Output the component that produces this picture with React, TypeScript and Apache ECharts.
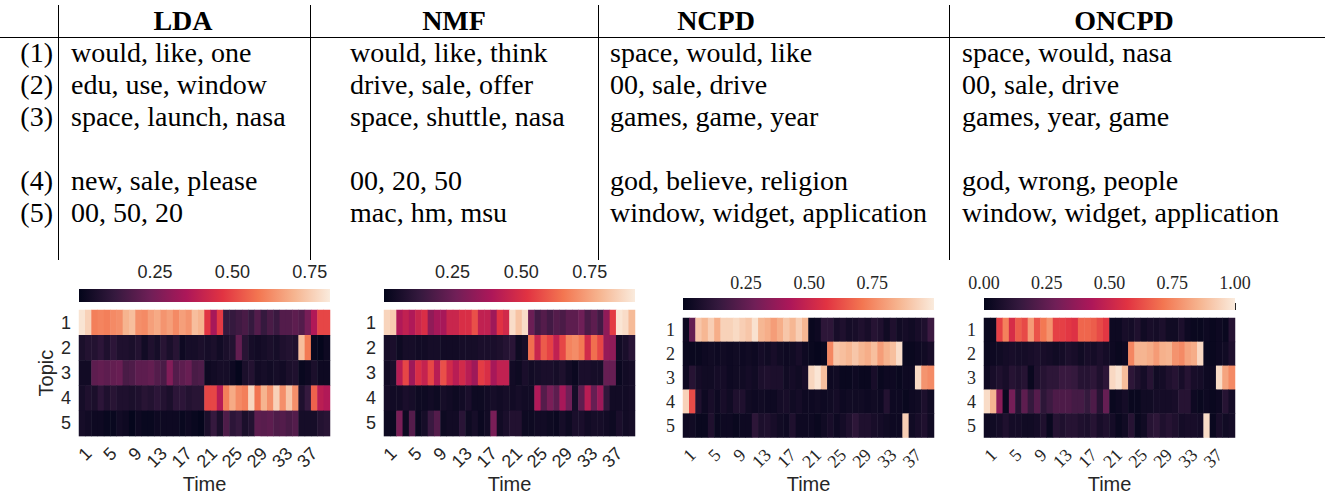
import React, { useEffect, useRef } from "react";
import * as echarts from "echarts";

// ---------- Data ----------
const TIME = ["1","2","3","4","5","6","7","8","9","10","11","12","13","14","15","16","17","18","19","20","21","22","23","24","25","26","27","28","29","30","31","32","33","34","35","36","37","38","39","40"];
const TOPICS = ["1", "2", "3", "4", "5"];
const TIME_LABEL_STEP = 4;

const ROW_LABELS = ["(1)", "(2)", "(3)", "(4)", "(5)"];
const LDA_WORDS = ["would, like, one", "edu, use, window", "space, launch, nasa", "new, sale, please", "00, 50, 20"];
const NMF_WORDS = ["would, like, think", "drive, sale, offer", "space, shuttle, nasa", "00, 20, 50", "mac, hm, msu"];
const NCPD_WORDS = ["space, would, like", "00, sale, drive", "games, game, year", "god, believe, religion", "window, widget, application"];
const ONCPD_WORDS = ["space, would, nasa", "00, sale, drive", "games, year, game", "god, wrong, people", "window, widget, application"];

const LDA_VALUES = [
  [0.80,0.76,0.60,0.61,0.60,0.62,0.63,0.70,0.72,0.63,0.62,0.66,0.68,0.64,0.66,0.62,0.66,0.64,0.72,0.70,0.47,0.34,0.48,0.12,0.12,0.14,0.16,0.12,0.18,0.12,0.16,0.13,0.18,0.18,0.20,0.18,0.25,0.36,0.50,0.50],
  [0.06,0.08,0.08,0.10,0.07,0.10,0.07,0.07,0.06,0.08,0.04,0.07,0.05,0.09,0.06,0.09,0.03,0.05,0.05,0.06,0.05,0.06,0.04,0.06,0.08,0.21,0.09,0.05,0.04,0.05,0.06,0.05,0.07,0.08,0.07,0.72,0.59,0.02,0.01,0.03],
  [0.04,0.04,0.20,0.21,0.20,0.21,0.22,0.16,0.17,0.20,0.20,0.21,0.18,0.16,0.27,0.18,0.20,0.22,0.16,0.17,0.03,0.04,0.05,0.05,0.03,0.01,0.06,0.08,0.04,0.05,0.04,0.05,0.04,0.06,0.07,0.02,0.03,0.06,0.03,0.03],
  [0.05,0.07,0.06,0.10,0.07,0.09,0.07,0.07,0.06,0.07,0.09,0.08,0.10,0.08,0.06,0.10,0.10,0.08,0.09,0.09,0.50,0.50,0.37,0.60,0.68,0.62,0.60,0.77,0.58,0.70,0.63,0.76,0.63,0.74,0.63,0.07,0.12,0.55,0.38,0.36],
  [0.05,0.04,0.03,0.03,0.02,0.02,0.04,0.03,0.01,0.03,0.02,0.02,0.03,0.03,0.03,0.03,0.02,0.03,0.02,0.01,0.06,0.12,0.06,0.17,0.10,0.12,0.06,0.08,0.20,0.19,0.20,0.17,0.18,0.16,0.18,0.05,0.05,0.05,0.08,0.09],
];
const NMF_VALUES = [
  [0.86,0.84,0.40,0.44,0.40,0.46,0.50,0.33,0.38,0.38,0.46,0.46,0.50,0.50,0.58,0.44,0.44,0.36,0.52,0.48,0.88,0.82,0.88,0.25,0.16,0.20,0.16,0.20,0.18,0.22,0.22,0.26,0.18,0.22,0.16,0.33,0.54,0.90,0.88,0.80],
  [0.05,0.06,0.03,0.05,0.05,0.04,0.04,0.05,0.05,0.04,0.04,0.04,0.05,0.05,0.05,0.06,0.06,0.06,0.07,0.09,0.10,0.03,0.05,0.64,0.46,0.60,0.55,0.44,0.56,0.68,0.70,0.66,0.48,0.64,0.56,0.34,0.33,0.04,0.06,0.10],
  [0.04,0.06,0.42,0.56,0.36,0.50,0.45,0.56,0.42,0.58,0.48,0.42,0.48,0.42,0.36,0.54,0.50,0.38,0.44,0.44,0.04,0.03,0.06,0.04,0.05,0.06,0.06,0.05,0.07,0.04,0.02,0.06,0.06,0.05,0.05,0.24,0.24,0.02,0.04,0.05],
  [0.05,0.04,0.04,0.06,0.05,0.03,0.03,0.04,0.03,0.05,0.04,0.03,0.04,0.06,0.03,0.03,0.04,0.05,0.04,0.05,0.04,0.05,0.04,0.04,0.40,0.20,0.28,0.22,0.38,0.26,0.05,0.22,0.42,0.24,0.36,0.12,0.04,0.04,0.04,0.05],
  [0.03,0.02,0.28,0.03,0.20,0.02,0.05,0.14,0.20,0.03,0.04,0.04,0.10,0.03,0.05,0.02,0.04,0.28,0.04,0.06,0.08,0.08,0.03,0.03,0.04,0.04,0.03,0.02,0.05,0.03,0.06,0.06,0.04,0.05,0.05,0.04,0.03,0.06,0.04,0.05],
];
const NCPD_VALUES = [
  [0.03,0.25,0.90,0.86,0.92,0.84,0.93,0.93,0.95,0.92,0.90,0.97,0.86,0.84,0.80,0.84,0.90,0.86,0.92,0.86,0.02,0.03,0.12,0.12,0.06,0.08,0.05,0.06,0.08,0.06,0.10,0.08,0.04,0.08,0.04,0.05,0.04,0.06,0.08,0.16],
  [0.02,0.02,0.02,0.03,0.04,0.03,0.04,0.03,0.04,0.03,0.04,0.03,0.05,0.04,0.06,0.04,0.03,0.04,0.06,0.03,0.02,0.01,0.02,0.75,0.90,0.88,0.86,0.90,0.86,0.84,0.88,0.80,0.85,0.88,0.96,0.02,0.02,0.03,0.04,0.06],
  [0.03,0.10,0.05,0.04,0.04,0.05,0.05,0.03,0.04,0.04,0.05,0.04,0.07,0.08,0.07,0.07,0.04,0.05,0.04,0.06,0.94,0.98,0.88,0.03,0.04,0.02,0.02,0.03,0.02,0.02,0.06,0.02,0.03,0.03,0.02,0.03,0.03,0.95,0.78,0.76],
  [0.93,0.62,0.08,0.03,0.06,0.03,0.06,0.04,0.08,0.08,0.04,0.03,0.04,0.03,0.03,0.05,0.06,0.04,0.05,0.03,0.03,0.04,0.03,0.04,0.05,0.03,0.04,0.04,0.04,0.03,0.04,0.03,0.09,0.03,0.03,0.02,0.03,0.04,0.07,0.04],
  [0.03,0.04,0.02,0.02,0.08,0.02,0.03,0.03,0.02,0.03,0.03,0.12,0.07,0.08,0.06,0.04,0.03,0.08,0.03,0.03,0.03,0.02,0.04,0.06,0.03,0.05,0.08,0.12,0.08,0.08,0.06,0.05,0.04,0.03,0.03,0.92,0.04,0.06,0.08,0.04],
];
const ONCPD_VALUES = [
  [0.02,0.02,0.60,0.74,0.54,0.66,0.62,0.80,0.64,0.72,0.78,0.60,0.60,0.58,0.56,0.68,0.68,0.66,0.62,0.58,0.03,0.03,0.06,0.05,0.08,0.04,0.06,0.05,0.07,0.04,0.04,0.07,0.03,0.02,0.02,0.03,0.02,0.03,0.02,0.10],
  [0.02,0.03,0.04,0.05,0.06,0.05,0.05,0.06,0.07,0.06,0.05,0.04,0.05,0.07,0.06,0.04,0.06,0.05,0.07,0.05,0.03,0.02,0.03,0.75,0.86,0.86,0.84,0.80,0.85,0.86,0.78,0.76,0.82,0.84,0.95,0.02,0.02,0.03,0.04,0.08],
  [0.03,0.06,0.08,0.06,0.10,0.08,0.10,0.02,0.08,0.10,0.12,0.12,0.15,0.15,0.14,0.10,0.10,0.12,0.08,0.12,0.95,0.98,0.88,0.12,0.08,0.05,0.10,0.04,0.05,0.08,0.10,0.06,0.10,0.06,0.05,0.03,0.03,0.96,0.82,0.76],
  [0.96,0.86,0.35,0.02,0.30,0.10,0.24,0.14,0.22,0.12,0.16,0.20,0.20,0.20,0.18,0.18,0.14,0.20,0.10,0.26,0.02,0.03,0.05,0.02,0.02,0.04,0.04,0.05,0.05,0.05,0.06,0.10,0.10,0.03,0.02,0.03,0.02,0.03,0.10,0.05],
  [0.03,0.04,0.05,0.08,0.05,0.05,0.04,0.04,0.05,0.08,0.02,0.10,0.08,0.10,0.10,0.08,0.07,0.10,0.06,0.08,0.05,0.02,0.04,0.10,0.02,0.04,0.10,0.12,0.08,0.10,0.08,0.05,0.06,0.06,0.05,0.96,0.02,0.06,0.04,0.05],
];

const LDA_RANGE = [0.005, 0.815];
const NMF_RANGE = [0, 0.915];
const NCPD_RANGE = [0, 0.995];
const ONCPD_RANGE = [0, 1];

const LDA_CB_TICKS = [0.25, 0.5, 0.75];
const NMF_CB_TICKS = [0.25, 0.5, 0.75];
const NCPD_CB_TICKS = [0.25, 0.5, 0.75];
const ONCPD_CB_TICKS = [0, 0.25, 0.5, 0.75, 1];

const ROCKET = ["#03051a", "#35193e", "#701f57", "#ad1759", "#e13342", "#f37651", "#f6b48f", "#faebdd"];

// ---------- Layout ----------
const SANS = "Liberation Sans";
const SERIF = "Liberation Serif";
const TXT = "#262626";

type Panel = {
  values: number[][];
  range: number[];
  ticks: number[];
  heat: { left: number; top: number; width: number; height: number };
  cb: { left: number; top: number; width: number; height: number };
  tickFont: string;
  tickSize: number;
  showTopic: boolean;
  timeGap: number;
  cbTickLen: number;
  cbMargin: number;
};

const PANELS: Panel[] = [
  { values: LDA_VALUES, range: LDA_RANGE, ticks: LDA_CB_TICKS, heat: { left: 79, top: 310, width: 251, height: 130 }, cb: { left: 79, top: 289, width: 251, height: 13 }, tickFont: SANS, tickSize: 18, showTopic: true, timeGap: 36, cbTickLen: 6, cbMargin: 8 },
  { values: NMF_VALUES, range: NMF_RANGE, ticks: NMF_CB_TICKS, heat: { left: 384, top: 310, width: 251, height: 130 }, cb: { left: 384, top: 289, width: 251, height: 13 }, tickFont: SANS, tickSize: 18, showTopic: false, timeGap: 36, cbTickLen: 6, cbMargin: 8 },
  { values: NCPD_VALUES, range: NCPD_RANGE, ticks: NCPD_CB_TICKS, heat: { left: 683, top: 318, width: 251, height: 130 }, cb: { left: 683, top: 298, width: 251, height: 12 }, tickFont: SERIF, tickSize: 18, showTopic: false, timeGap: 30, cbTickLen: 7, cbMargin: 6 },
  { values: ONCPD_VALUES, range: ONCPD_RANGE, ticks: ONCPD_CB_TICKS, heat: { left: 984, top: 318, width: 251, height: 130 }, cb: { left: 984, top: 298, width: 251, height: 12 }, tickFont: SERIF, tickSize: 18, showTopic: false, timeGap: 30, cbTickLen: 7, cbMargin: 6 },
];

function buildOption() {
  const grid: any[] = [];
  const xAxis: any[] = [];
  const yAxis: any[] = [];
  const series: any[] = [];
  const visualMap: any[] = [];

  PANELS.forEach((p) => {
    const hg = grid.length;
    grid.push({ ...p.heat, containLabel: false });
    xAxis.push({
      gridIndex: hg,
      type: "category",
      data: TIME,
      axisLine: { show: false },
      axisTick: { show: false },
      splitArea: { show: false },
      axisLabel: {
        interval: 0,
        formatter: (v: string, i: number) => (i % TIME_LABEL_STEP === 0 ? v : ""),
        showMinLabel: true,
        showMaxLabel: true,
        hideOverlap: false,
        rotate: 45,
        align: "right",
        verticalAlign: "top",
        margin: 8,
        fontSize: p.tickSize,
        fontFamily: p.tickFont,
        color: TXT,
      },
      name: "Time",
      nameLocation: "middle",
      nameGap: p.timeGap,
      nameTextStyle: { fontSize: 20, fontFamily: SANS, color: TXT, verticalAlign: "top" },
    });
    yAxis.push({
      gridIndex: hg,
      type: "category",
      data: TOPICS,
      inverse: true,
      axisLine: { show: false },
      axisTick: { show: false },
      splitArea: { show: false },
      axisLabel: { margin: 8, fontSize: p.tickSize, fontFamily: p.tickFont, color: TXT },
      name: p.showTopic ? "Topic" : "",
      nameLocation: "middle",
      nameGap: 23,
      nameRotate: 90,
      nameTextStyle: { fontSize: 20, fontFamily: SANS, color: TXT },
    });
    const data: number[][] = [];
    p.values.forEach((row, yi) => row.forEach((v, xi) => data.push([xi, yi, v])));
    const hs = series.length;
    series.push({
      type: "heatmap",
      xAxisIndex: xAxis.length - 1,
      yAxisIndex: yAxis.length - 1,
      data,
      itemStyle: { borderWidth: 0 },
      emphasis: { disabled: true },
    });
    visualMap.push({
      type: "continuous",
      show: false,
      seriesIndex: hs,
      dimension: 2,
      min: p.range[0],
      max: p.range[1],
      inRange: { color: ROCKET },
    });

    const cg = grid.length;
    grid.push({ ...p.cb, containLabel: false });
    xAxis.push({
      gridIndex: cg,
      type: "value",
      position: "top",
      min: p.range[0],
      max: p.range[1],
      axisLine: { show: false },
      splitLine: { show: false },
      axisTick: { show: true, length: p.cbTickLen, inside: false, customValues: p.ticks, lineStyle: { color: TXT, width: 1 } },
      axisLabel: {
        customValues: p.ticks,
        showMinLabel: true,
        showMaxLabel: true,
        formatter: (v: number) => v.toFixed(2),
        margin: p.cbMargin,
        fontSize: p.tickSize,
        fontFamily: p.tickFont,
        color: TXT,
      },
    });
    yAxis.push({ gridIndex: cg, type: "value", min: 0, max: 1, show: false });
    const stops = ROCKET.map((c, i) => ({ offset: i / (ROCKET.length - 1), color: c }));
    series.push({
      type: "custom",
      xAxisIndex: xAxis.length - 1,
      yAxisIndex: yAxis.length - 1,
      data: [[p.range[0], 0]],
      silent: true,
      renderItem: (params: any) => {
        const cs = params.coordSys;
        return {
          type: "rect",
          shape: { x: cs.x, y: cs.y, width: cs.width, height: cs.height },
          style: { fill: new echarts.graphic.LinearGradient(0, 0, 1, 0, stops) },
        };
      },
    });
  });

  // ---------- Table ----------
  const graphic: any[] = [];
  const lineStyle = { stroke: "#000", lineWidth: 1 };
  [58.5, 310.5, 598.5, 949.5].forEach((x) =>
    graphic.push({ type: "line", shape: { x1: x, y1: 5, x2: x, y2: 260 }, style: lineStyle })
  );
  graphic.push({ type: "line", shape: { x1: 0, y1: 37.5, x2: 1325, y2: 37.5 }, style: lineStyle });

  const headers = [
    { text: "LDA", x: 183 },
    { text: "NMF", x: 454 },
    { text: "NCPD", x: 716 },
    { text: "ONCPD", x: 1124 },
  ];
  headers.forEach((h) =>
    graphic.push({
      type: "text",
      x: h.x,
      y: 20,
      style: { text: h.text, fontFamily: SERIF, fontSize: 28, fontWeight: "bold", fill: "#000", align: "center", verticalAlign: "middle" },
    })
  );
  const rowY = [52, 84, 116, 180, 212];
  const cols = [
    { words: LDA_WORDS, x: 71 },
    { words: NMF_WORDS, x: 350 },
    { words: NCPD_WORDS, x: 610 },
    { words: ONCPD_WORDS, x: 962 },
  ];
  ROW_LABELS.forEach((lab, i) => {
    graphic.push({
      type: "text",
      x: 53,
      y: rowY[i],
      style: { text: lab, fontFamily: SERIF, fontSize: 28, fill: "#000", align: "right", verticalAlign: "middle" },
    });
    cols.forEach((c) =>
      graphic.push({
        type: "text",
        x: c.x,
        y: rowY[i],
        style: { text: c.words[i], fontFamily: SERIF, fontSize: 28, fill: "#000", align: "left", verticalAlign: "middle" },
      })
    );
  });

  return {
    animation: false,
    backgroundColor: "#ffffff",
    grid,
    xAxis,
    yAxis,
    series,
    visualMap,
    graphic,
  };
}

export default function App() {
  const ref = useRef<HTMLDivElement>(null);
  useEffect(() => {
    if (!ref.current) return;
    const chart = echarts.init(ref.current, undefined, { renderer: "svg" });
    chart.setOption(buildOption() as any);
    return () => chart.dispose();
  }, []);
  return <div ref={ref} style={{ position: "absolute", left: 0, top: 0, width: 1331, height: 495 }} />;
}
